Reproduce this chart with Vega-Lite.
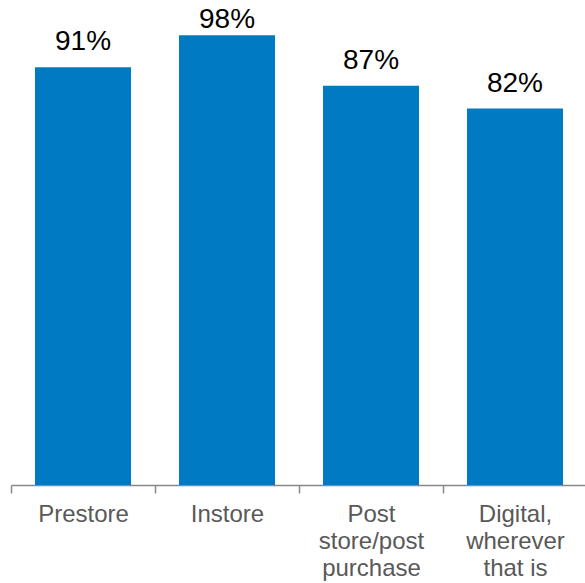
{
  "$schema": "https://vega.github.io/schema/vega-lite/v6.json",
  "width": 576,
  "height": 459,
  "autosize": {"type": "none"},
  "padding": {"left": 11, "top": 26, "right": 0, "bottom": 98},
  "config": {"view": {"stroke": null}, "font": "Liberation Sans"},
  "data": {
    "values": [
      {"stage": "Prestore", "value": 91},
      {"stage": "Instore", "value": 98},
      {"stage": "Post store/post purchase", "value": 87},
      {"stage": "Digital, wherever that is", "value": 82}
    ]
  },
  "encoding": {
    "x": {
      "field": "stage",
      "type": "nominal",
      "sort": null,
      "scale": {"paddingInner": 0.3333, "paddingOuter": 0.1667},
      "axis": {
        "title": null,
        "labelAngle": 0,
        "tickOffset": -72,
        "labelOffset": 72,
        "domainColor": "#898989",
        "tickColor": "#898989",
        "tickSize": 8,
        "domainWidth": 1.5,
        "tickWidth": 1.5,
        "labelColor": "#595959",
        "labelFontSize": 24,
        "labelLineHeight": 27,
        "labelPadding": 9,
        "labelBaseline": "top",
        "labelExpr": "datum.label == 'Post store/post purchase' ? ['Post', 'store/post', 'purchase'] : datum.label == 'Digital, wherever that is' ? ['Digital,', 'wherever', 'that is'] : datum.label"
      }
    }
  },
  "layer": [
    {
      "mark": {"type": "bar", "color": "#007AC2"},
      "encoding": {
        "y": {"field": "value", "type": "quantitative", "scale": {"domain": [0, 100]}, "axis": null}
      }
    },
    {
      "transform": [
        {"calculate": "min(datum.value, 95.9)", "as": "labelY"},
        {"calculate": "datum.value + '%'", "as": "label"}
      ],
      "mark": {"type": "text", "fontSize": 28, "baseline": "alphabetic", "dy": -17, "color": "#000000"},
      "encoding": {
        "y": {"field": "labelY", "type": "quantitative", "scale": {"domain": [0, 100]}, "axis": null},
        "text": {"field": "label", "type": "nominal"},
        "x": {"field": "stage", "type": "nominal", "sort": null}
      }
    }
  ]
}
